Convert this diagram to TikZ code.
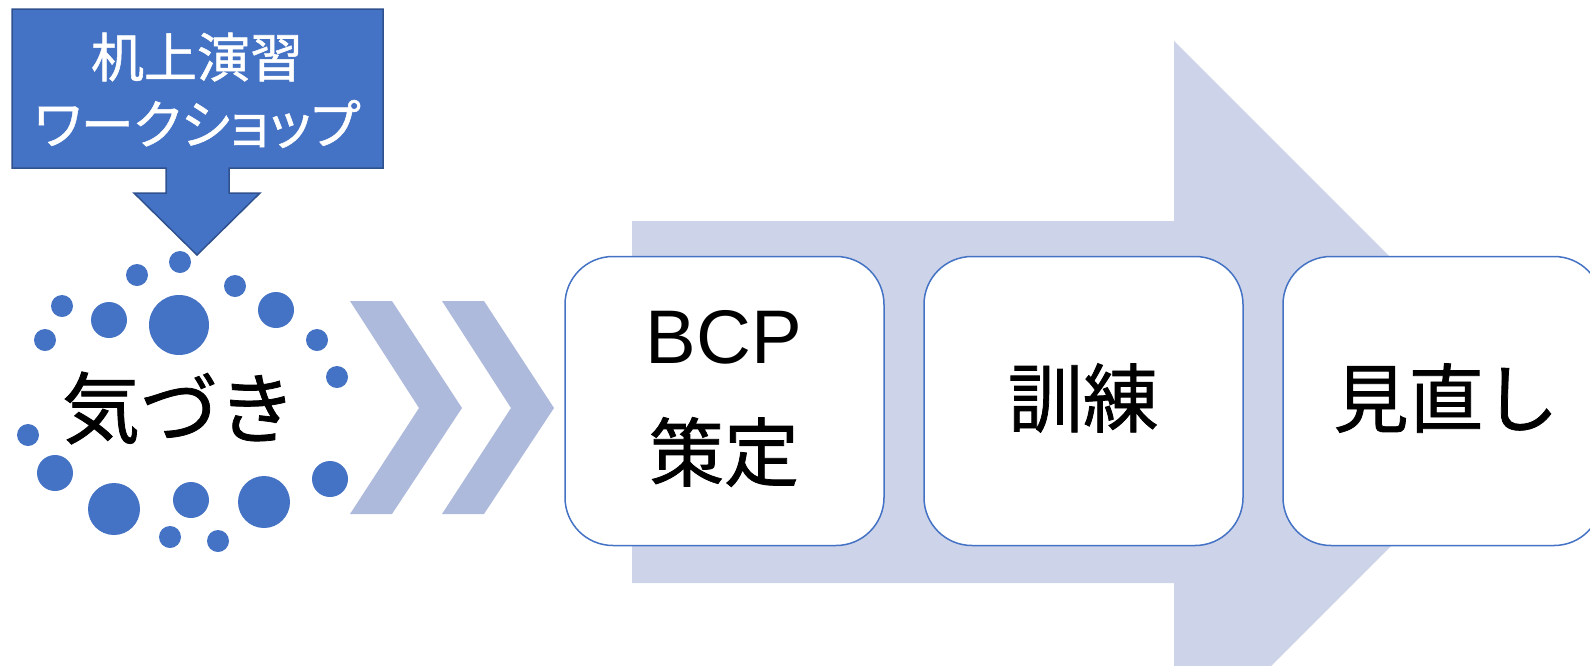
\documentclass[tikz,border=0pt]{standalone}
\usepackage{fontspec}
\setmainfont{Liberation Sans}
\newfontfamily\jp[FakeBold=1]{Noto Sans CJK JP}
\newfontfamily\jpp[RawFeature=+palt,FakeBold=1]{Noto Sans CJK JP}
\definecolor{mainblue}{HTML}{4472C4}
\definecolor{darkblue}{HTML}{2F528F}
\definecolor{chev}{HTML}{AEBADC}
\definecolor{bigarrow}{HTML}{CDD4EA}
\tikzset{
  stepbox/.style={draw=mainblue, line width=1.5pt, fill=white, rounded corners=48pt,
    minimum width=319pt, minimum height=289pt, inner sep=0pt},
  bigtext/.style={inner sep=0pt, font=\jp\fontsize{75}{80}\selectfont, text=black},
  calltext/.style={inner sep=0pt, text=white},
  dot/.style={fill=mainblue},
}
\begin{document}
\begin{tikzpicture}[x=1pt,y=-1pt]
\useasboundingbox (0,0) rectangle (1590,665);
\clip (0,0) rectangle (1590,665);
% big background arrow
\fill[bigarrow] (632,221) -- (1174,221) -- (1174,41) -- (1535,402) -- (1174,763) -- (1174,583) -- (632,583) -- cycle;
% chevrons
\fill[chev] (350,301) -- (392,301) -- (462,408) -- (392,514) -- (350,514) -- (419,408) -- cycle;
\fill[chev] (442,301) -- (484,301) -- (554,408) -- (484,514) -- (442,514) -- (511,408) -- cycle;
% step boxes
\node[stepbox] (b1) at (724.5,401) {};
\node[stepbox] (b2) at (1083.5,401) {};
\node[stepbox] (b3) at (1442.5,401) {};
\node[inner sep=0pt, font=\fontsize{76}{80}\selectfont] (bcp) at (724,337) {BCP};
\node[bigtext] (sakutei) at (724,452) {策定};
\node[bigtext] (kunren) at (1083,398) {訓練};
\node[bigtext] (minaoshi) at (1446,398) {見直し};
% dots
\fill[dot] (180,262) circle (11);
\fill[dot] (137,275) circle (11);
\fill[dot] (235,286) circle (11);
\fill[dot] (62,306) circle (11);
\fill[dot] (109,320) circle (18);
\fill[dot] (179,325) circle (30);
\fill[dot] (276,310) circle (18);
\fill[dot] (45,340) circle (11);
\fill[dot] (317,340) circle (11);
\fill[dot] (337,377) circle (11);
\fill[dot] (28,435) circle (11);
\fill[dot] (55,473) circle (18);
\fill[dot] (114,509) circle (26);
\fill[dot] (191,500) circle (18);
\fill[dot] (264,502) circle (26);
\fill[dot] (330,479) circle (18);
\fill[dot] (170,537) circle (11);
\fill[dot] (218,541) circle (11);
\node[inner sep=0pt, font=\jp\fontsize{78}{80}\selectfont] (kizuki) at (179,408) {気づき};
% callout
\filldraw[fill=mainblue, draw=darkblue, line width=1.5pt, line join=miter]
  (12,9) -- (383,9) -- (383,168) -- (229,168) -- (229,193) -- (260,193) -- (197,255)
  -- (134,193) -- (166,193) -- (166,168) -- (12,168) -- cycle;
\node[calltext, font=\jp\fontsize{53}{60}\selectfont] (t1) at (197,57) {机上演習};
\node[calltext, font=\jpp\fontsize{53}{60}\selectfont] (t2) at (197,124) {ワークショップ};
\end{tikzpicture}
\end{document}
